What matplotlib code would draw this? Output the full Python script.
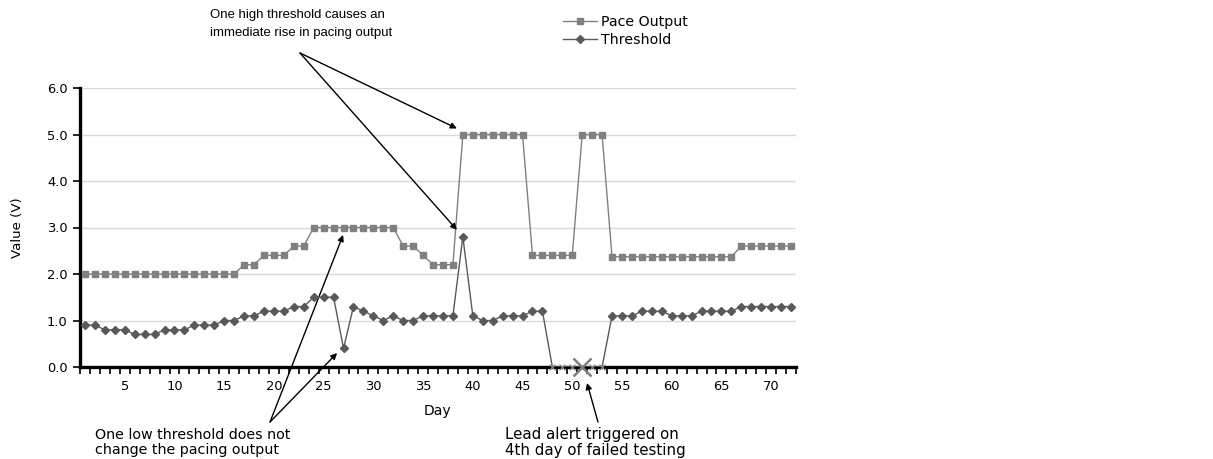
import matplotlib
matplotlib.use("Agg")
import matplotlib.pyplot as plt
import numpy as np

plt.rcParams['font.family'] = ['DejaVu Sans']

days = list(range(1, 73))
pace_output = [2.0, 2.0, 2.0, 2.0, 2.0, 2.0, 2.0, 2.0, 2.0, 2.0, 2.0, 2.0, 2.0, 2.0, 2.0, 2.0,
               2.2, 2.2, 2.4, 2.4, 2.4, 2.6, 2.6,
               3.0, 3.0, 3.0, 3.0, 3.0, 3.0, 3.0, 3.0, 3.0,
               2.6, 2.6, 2.4, 2.2, 2.2, 2.2,
               5.0, 5.0, 5.0, 5.0, 5.0, 5.0, 5.0,
               2.4, 2.4, 2.4, 2.4, 2.4,
               5.0, 5.0, 5.0,
               2.37, 2.37, 2.37, 2.37, 2.37, 2.37, 2.37, 2.37, 2.37, 2.37, 2.37, 2.37, 2.37,
               2.6, 2.6, 2.6, 2.6, 2.6, 2.6]
threshold = [0.9, 0.9, 0.8, 0.8, 0.8, 0.7, 0.7, 0.7, 0.8, 0.8, 0.8, 0.9, 0.9, 0.9,
             1.0, 1.0, 1.1, 1.1, 1.2, 1.2, 1.2, 1.3, 1.3, 1.5, 1.5, 1.5, 0.4,
             1.3, 1.2, 1.1, 1.0, 1.1, 1.0, 1.0, 1.1, 1.1, 1.1, 1.1, 2.8,
             1.1, 1.0, 1.0, 1.1, 1.1, 1.1, 1.2, 1.2,
             0.0, 0.0, 0.0, 0.0, 0.0, 0.0,
             1.1, 1.1, 1.1, 1.2, 1.2, 1.2, 1.1, 1.1, 1.1, 1.2, 1.2, 1.2, 1.2,
             1.3, 1.3, 1.3, 1.3, 1.3, 1.3]
failed_days = [48, 49, 50, 51, 52, 53]
alert_day = 51
x_tick_labels = [5, 10, 15, 20, 25, 30, 35, 40, 45, 50, 55, 60, 65, 70]
y_ticks = [0.0, 1.0, 2.0, 3.0, 4.0, 5.0, 6.0]

W, H = 1213, 459
fig = plt.figure(figsize=(W / 100, H / 100), dpi=100)
ax = fig.add_axes([80 / W, 1 - 367 / H, (796 - 80) / W, (367 - 88) / H])

pace_color = '#808080'
thr_color = '#595959'

ax.plot(days, pace_output, color=pace_color, lw=1.0, marker='s', ms=5.0,
        mfc=pace_color, mec=pace_color, label='Pace Output', zorder=3)
ok_idx = [i for i, d in enumerate(days) if d not in failed_days]
ax.plot(days, threshold, color=thr_color, lw=1.0, marker='D', ms=4.0,
        mfc=thr_color, mec=thr_color, markevery=ok_idx, label='Threshold', zorder=4)
fail_vals = [threshold[days.index(d)] for d in failed_days]
ax.plot(failed_days, fail_vals, ls='none', marker='x', ms=5, mew=0.8,
        color='#8c8c8c', zorder=5, clip_on=False)
ax.plot([alert_day], [threshold[days.index(alert_day)]], ls='none', marker='x',
        ms=13, mew=1.8, color='#7f7f7f', zorder=6, clip_on=False)

ax.set_xlim(0.5, 72.5)
ax.set_ylim(0, 6)
ax.set_yticks(y_ticks)
ax.set_yticklabels([f'{v:.1f}' for v in y_ticks], fontsize=9.4)
ax.set_xticks(np.arange(0.5, 73, 1.0))
ax.set_xticklabels([])
ax.set_xticks(x_tick_labels, minor=True)
ax.set_xticklabels([str(v) for v in x_tick_labels], minor=True, fontsize=9.4)
ax.tick_params(axis='x', which='major', direction='out', length=5, width=1.2, color='black')
ax.tick_params(axis='x', which='minor', length=0, pad=9)
ax.tick_params(axis='y', direction='out', length=5, width=1.2, pad=4)

ax.grid(axis='y', color='#d9d9d9', lw=1.0, zorder=0)
ax.set_axisbelow(True)
for s in ['top', 'right']:
    ax.spines[s].set_visible(False)
for s in ['left', 'bottom']:
    ax.spines[s].set_linewidth(2.4)
    ax.spines[s].set_color('black')

fig.text(18 / W, 1 - 228 / H, 'Value (V)', rotation=90, ha='center', va='center', fontsize=9.6)
fig.text(437 / W, 1 - 411 / H, 'Day', ha='center', va='center', fontsize=10)

leg = ax.legend(loc='upper left', bbox_to_anchor=(556 / W, 1 - 8 / H),
                bbox_transform=fig.transFigure, frameon=False, fontsize=10.2,
                handlelength=2.4, handletextpad=0.3, labelspacing=0.25, borderpad=0)

def fp(x, y):
    return (x, H - y)

arrowprops = dict(arrowstyle='-|>', color='black', lw=1.0, mutation_scale=9,
                  shrinkA=0, shrinkB=0)

renderer = fig.canvas.get_renderer()

def put_lines(x, ys, lines, family, ref_index, target_width):
    texts = [fig.text(x / W, 1 - y / H, t, ha='left', va='center', fontsize=10, family=family)
             for y, t in zip(ys, lines)]
    w = texts[ref_index].get_window_extent(renderer).width
    size = 10 * target_width / w
    for t in texts:
        t.set_fontsize(size)
    return texts

put_lines(210, [15, 33], ['One high threshold causes an', 'immediate rise in pacing output'],
          ['Liberation Sans', 'DejaVu Sans'], 1, 182)
ax.annotate('', xy=(38.4, 5.13), xycoords='data', xytext=fp(300, 53),
            textcoords='figure pixels', arrowprops=arrowprops)
ax.annotate('', xy=(38.4, 2.95), xycoords='data', xytext=fp(300, 53),
            textcoords='figure pixels', arrowprops=arrowprops)

put_lines(95, [435, 450], ['One low threshold does not', 'change the pacing output'],
          ['DejaVu Sans'], 0, 195)
ax.annotate('', xy=(26.96, 2.84), xycoords='data', xytext=fp(270, 422),
            textcoords='figure pixels', arrowprops=arrowprops, annotation_clip=False)
ax.annotate('', xy=(26.35, 0.30), xycoords='data', xytext=fp(270, 422),
            textcoords='figure pixels', arrowprops=arrowprops, annotation_clip=False)

put_lines(505, [435, 450], ['Lead alert triggered on', '4th day of failed testing'],
          ['DejaVu Sans'], 0, 174)
ax.annotate('', xy=fp(587, 383), xycoords='figure pixels', xytext=fp(598, 422),
            textcoords='figure pixels', arrowprops=arrowprops, annotation_clip=False)

fig.savefig('out.png', dpi=100)
